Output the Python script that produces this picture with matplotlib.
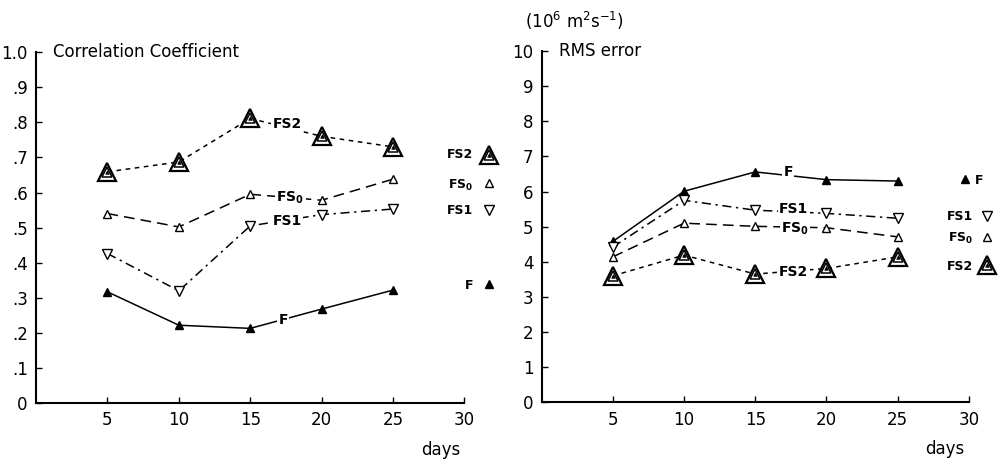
import matplotlib.pyplot as plt
import numpy as np

plt.rcParams['font.family'] = ['DejaVu Sans']

days = [5, 10, 15, 20, 25]

# correlation coefficient
cc_f = [0.317, 0.222, 0.213, 0.268, 0.322]
cc_fs0 = [0.54, 0.502, 0.595, 0.578, 0.638]
cc_fs1 = [0.426, 0.32, 0.505, 0.537, 0.553]
cc_fs2 = [0.659, 0.687, 0.811, 0.76, 0.73]

# rms error (10^6 m2 s-1)
rms_f = [4.58, 6.01, 6.56, 6.34, 6.3]
rms_fs0 = [4.14, 5.1, 5.01, 4.97, 4.71]
rms_fs1 = [4.42, 5.75, 5.47, 5.38, 5.24]
rms_fs2 = [3.6, 4.19, 3.65, 3.81, 4.14]

fig = plt.figure(figsize=(10.03, 4.65), dpi=100)
ax1 = fig.add_axes([0.036, 0.133, 0.427, 0.755])
ax2 = fig.add_axes([0.540, 0.135, 0.426, 0.755])

lk = dict(color='black', lw=1.1)


def fs2_marker(ax, x, y, ms):
    ax.plot(x, y, ls='none', marker='^', ms=ms, mfc='white', mec='black', mew=1.6)
    ax.plot(x, y, ls='none', marker='^', ms=ms * 0.55, mfc='white', mec='black', mew=1.1)
    ax.plot(x, y, ls='none', marker='^', ms=ms * 0.2, mfc='black', mec='black', mew=0.5)


def draw(ax, f, fs0, fs1, fs2):
    ax.plot(days, f, ls='-', marker='^', ms=6, mfc='black', mec='black', **lk)
    ax.plot(days, fs0, ls=(0, (7, 4)), marker='^', ms=6, mfc='white', mec='black', **lk)
    ax.plot(days, fs1, ls=(0, (6, 3, 1.5, 3)), marker='v', ms=7, mfc='white', mec='black', **lk)
    ax.plot(days, fs2, ls=(0, (3, 3)), **lk)
    fs2_marker(ax, days, fs2, 13)


def style(ax, top):
    for s in ['top', 'right']:
        ax.spines[s].set_visible(False)
    ax.spines['left'].set_linewidth(1.5)
    ax.spines['bottom'].set_linewidth(1.5)
    ax.set_xlim(0, 30)
    ax.set_ylim(0, top)
    ax.set_xticks([5, 10, 15, 20, 25, 30])
    ax.tick_params(direction='in', length=4, width=1, labelsize=12, pad=6)
    ax.text(29.7, -0.133 * top, 'days', ha='right', va='center', fontsize=12)


draw(ax1, cc_f, cc_fs0, cc_fs1, cc_fs2)
style(ax1, 1.0)
ax1.set_yticks(np.arange(0, 1.01, 0.1))
ax1.set_yticklabels(['0', '.1', '.2', '.3', '.4', '.5', '.6', '.7', '.8', '.9', '1.0'])
ax1.text(1.2, 1.0, 'Correlation Coefficient', ha='left', va='center', fontsize=12)

bb = dict(facecolor='white', edgecolor='none', pad=1)
fw = dict(fontsize=10, fontweight='bold', ha='center', va='center', bbox=bb)
ax1.text(17.6, 0.795, 'FS2', **fw)
ax1.text(17.8, 0.585, r'FS$_{\mathbf{0}}$', **fw)
ax1.text(17.6, 0.518, 'FS1', **fw)
ax1.text(17.3, 0.238, 'F', **fw)

# right-side key, left panel
lab = dict(fontsize=9, fontweight='bold', ha='right', va='center')
ax1.text(30.6, 0.707, 'FS2', **lab)
fs2_marker(ax1, [31.7], [0.707], 13)
ax1.text(30.6, 0.62, r'FS$_{\mathbf{0}}$', **lab)
ax1.plot([31.7], [0.627], ls='none', marker='^', ms=6, mfc='white', mec='black')
ax1.text(30.6, 0.55, 'FS1', **lab)
ax1.plot([31.7], [0.55], ls='none', marker='v', ms=7, mfc='white', mec='black')
ax1.text(30.6, 0.336, 'F', **lab)
ax1.plot([31.7], [0.338], ls='none', marker='^', ms=6, mfc='black', mec='black')

draw(ax2, rms_f, rms_fs0, rms_fs1, rms_fs2)
style(ax2, 10)
ax2.set_yticks(range(0, 11))
ax2.text(1.2, 10, 'RMS error', ha='left', va='center', fontsize=12)
ax2.text(-1.2, 10.85, r'$(10^6\ \mathrm{m}^2\mathrm{s}^{-1})$', ha='left', va='center', fontsize=12)
ax2.text(17.3, 6.55, 'F', **fw)
ax2.text(17.7, 5.5, 'FS1', **fw)
ax2.text(17.8, 4.95, r'FS$_{\mathbf{0}}$', **fw)
ax2.text(17.7, 3.72, 'FS2', **fw)

# right-side key, right panel
ax2.plot([29.7], [6.35], ls='none', marker='^', ms=6, mfc='black', mec='black')
ax2.text(30.4, 6.32, 'F', fontsize=9, fontweight='bold', ha='left', va='center')
ax2.text(30.3, 5.28, 'FS1', **lab)
ax2.plot([31.3], [5.3], ls='none', marker='v', ms=7, mfc='white', mec='black')
ax2.text(30.3, 4.67, r'FS$_{\mathbf{0}}$', **lab)
ax2.plot([31.3], [4.72], ls='none', marker='^', ms=6, mfc='white', mec='black')
ax2.text(30.3, 3.87, 'FS2', **lab)
fs2_marker(ax2, [31.3], [3.92], 13)

for ax in (ax1, ax2):
    for ln in ax.lines:
        ln.set_clip_on(False)
    for t in ax.texts:
        t.set_clip_on(False)

fig.savefig('out.png', dpi=100)
